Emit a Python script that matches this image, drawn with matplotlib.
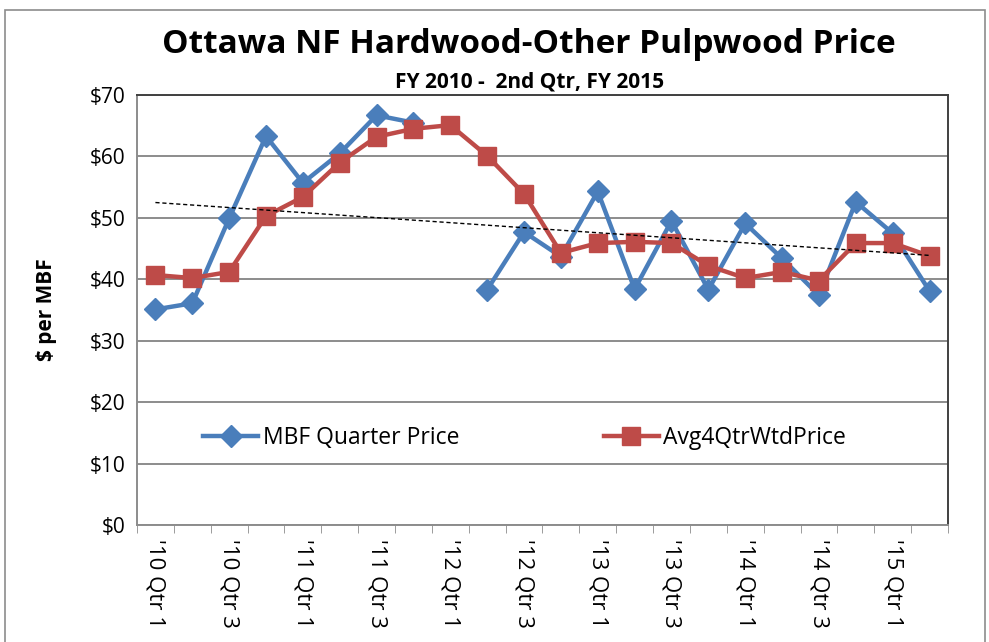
import numpy as np
import matplotlib
matplotlib.use('Agg')
import matplotlib.pyplot as plt
from matplotlib.patches import Rectangle

plt.rcParams['font.family'] = ['Open Sans', 'DejaVu Sans']

quarters = ["'10 Qtr 1", "'10 Qtr 2", "'10 Qtr 3", "'10 Qtr 4",
            "'11 Qtr 1", "'11 Qtr 2", "'11 Qtr 3", "'11 Qtr 4",
            "'12 Qtr 1", "'12 Qtr 2", "'12 Qtr 3", "'12 Qtr 4",
            "'13 Qtr 1", "'13 Qtr 2", "'13 Qtr 3", "'13 Qtr 4",
            "'14 Qtr 1", "'14 Qtr 2", "'14 Qtr 3", "'14 Qtr 4",
            "'15 Qtr 1", "'15 Qtr 2"]
mbf_price = [35.1, 36.1, 49.9, 63.3, 55.7, 60.5, 66.7, 65.5, np.nan, 38.3, 47.7,
             43.7, 54.3, 38.4, 49.5, 38.3, 49.1, 43.4, 37.4, 52.6, 47.5, 38.1]
avg4qtr = [40.7, 40.2, 41.2, 50.3, 53.4, 59.0, 63.2, 64.5, 65.1, 60.1, 53.9,
           44.3, 45.9, 46.1, 45.9, 42.2, 40.2, 41.2, 39.8, 45.9, 45.9, 43.8]

blue = '#4A7EBB'
red = '#BE4B48'

fig = plt.figure(figsize=(9.89, 6.42), dpi=100)
ax = fig.add_axes([0.1385, 0.1822, 0.82, 0.6698])

x = np.arange(len(quarters))
y = np.array(mbf_price)

ax.plot(x, y, color=blue, lw=3.2, marker='D', markersize=11, label='MBF Quarter Price', zorder=3)
ax.plot(x, avg4qtr, color=red, lw=3.2, marker='s', markersize=13, label='Avg4QtrWtdPrice', zorder=4)

# linear trendline of the quarter price
ok = ~np.isnan(y)
coef = np.polyfit(x[ok], y[ok], 1)
ax.plot(x, np.polyval(coef, x), color='black', lw=1, ls=(0, (3, 2)), zorder=5)

ax.set_xlim(-0.5, len(quarters) - 0.5)
ax.set_ylim(0, 70)
ax.set_yticks(range(0, 71, 10))
ax.set_yticklabels(['$%d' % v for v in range(0, 71, 10)], fontsize=15)
ax.yaxis.grid(True, color='#8c8c8c', lw=1.4)
ax.set_axisbelow(True)
ax.tick_params(axis='y', length=0, pad=8)

ax.set_xticks(x[::2])
ax.set_xticklabels(quarters[::2], rotation=270, fontsize=16, va='top', ha='center')
ax.set_xticks(np.arange(-0.5, len(quarters), 1), minor=True)
ax.tick_params(axis='x', which='major', length=0, pad=10)
ax.tick_params(axis='x', which='minor', length=6, color='#8c8c8c', direction='out')

for s in ['left', 'bottom']:
    ax.spines[s].set_color('#8c8c8c')
    ax.spines[s].set_linewidth(1.4)
for s in ['top', 'right']:
    ax.spines[s].set_color('#404040')
    ax.spines[s].set_linewidth(1.4)

ax.set_ylabel('$ per MBF', fontsize=15, fontweight='bold', labelpad=24)

ax.legend(loc='center', bbox_to_anchor=(0.478, 0.2023), ncol=2, frameon=False,
          fontsize=16.5, columnspacing=6.3, handlelength=2.4, handletextpad=0.2)

fig.text(0.535, 0.93, 'Ottawa NF Hardwood-Other Pulpwood Price', ha='center', va='center',
         fontsize=24, fontweight='bold')
fig.text(0.535, 0.873, 'FY 2010 -  2nd Qtr, FY 2015', ha='center', va='center',
         fontsize=15, fontweight='bold')

fig.patches.append(Rectangle((5 / 989, -0.1), 980 / 989, 1.1 - 10 / 642, transform=fig.transFigure,
                             fill=False, edgecolor='#8c8c8c', lw=1.2))

fig.savefig('out.png', dpi=100)
